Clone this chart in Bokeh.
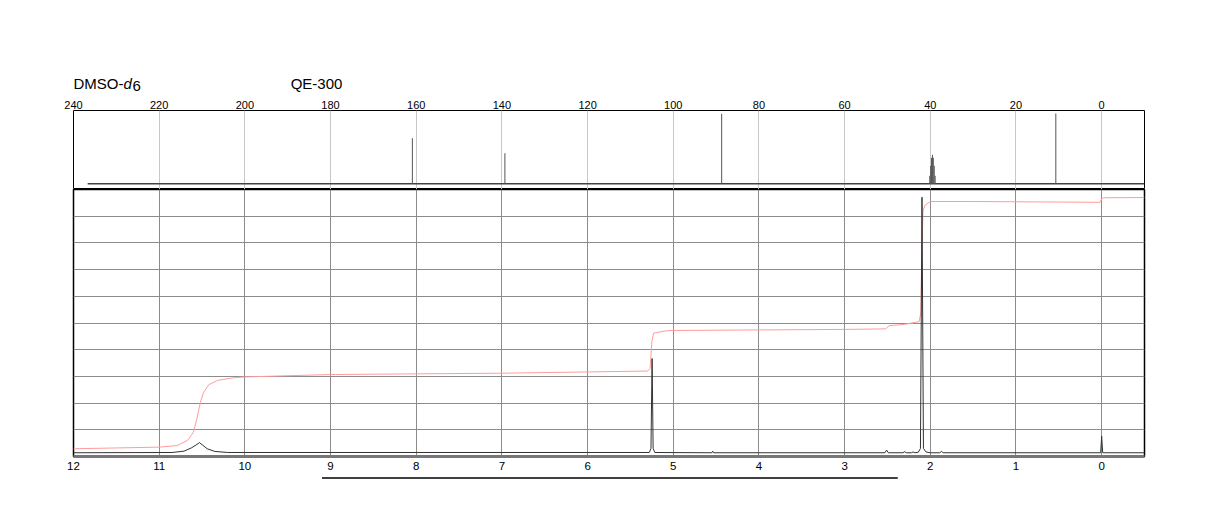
from bokeh.plotting import figure
from bokeh.layouts import column
from bokeh.models import Range1d, FixedTicker
from bokeh.core.properties import value
from bokeh.embed import file_html
from bokeh.resources import INLINE

# ---------------- data ----------------
# 13C spectrum (top panel)
c13_ticks = [240, 220, 200, 180, 160, 140, 120, 100, 80, 60, 40, 20, 0]
c13_baseline = 5.7
c13_baseline_ppm = [236.7, -10.0]
c13_peak_ppm = [160.9, 139.3, 88.7, 40.13, 39.92, 39.71, 39.50, 39.29, 39.08, 38.87, 10.7]
c13_peak_top = [51.3, 36.3, 75.7, 13.7, 23.7, 31.7, 34.7, 31.7, 23.7, 13.7, 76.0]

# 1H spectrum (bottom panel)
h1_ticks = [12, 11, 10, 9, 8, 7, 6, 5, 4, 3, 2, 1, 0]
h1_hgrid = [1, 2, 3, 4, 5, 6, 7, 8, 9]
h1_ppm = [12.0, 10.85, 10.71, 10.62, 10.57, 10.53, 10.49, 10.44, 10.35, 10.2,
          5.28, 5.26, 5.247, 5.235, 5.215,
          4.55, 4.54, 4.53,
          2.53, 2.51, 2.49, 2.32, 2.30, 2.28, 2.22, 2.20, 2.18,
          2.14, 2.115, 2.097, 2.08, 2.05, 2.0,
          1.89, 1.87, 1.85,
          0.012, 0.0, -0.012, -0.5]
h1_int = [0.14, 0.15, 0.20, 0.33, 0.43, 0.52, 0.42, 0.29, 0.19, 0.15,
          0.15, 0.30, 3.67, 0.30, 0.15,
          0.14, 0.20, 0.14,
          0.14, 0.24, 0.14, 0.14, 0.18, 0.14, 0.14, 0.17, 0.14,
          0.16, 0.30, 9.71, 0.30, 0.17, 0.14,
          0.14, 0.19, 0.14,
          0.14, 0.76, 0.14, 0.14]

# integral trace
int_ppm = [12.0, 11.0, 10.79, 10.67, 10.6, 10.56, 10.52, 10.48, 10.42, 10.32, 10.13, 10.0,
           9.0, 7.0, 5.3, 5.27, 5.25, 5.23, 5.1, 5.0, 3.0, 2.52, 2.48, 2.3, 2.13,
           2.11, 2.10, 2.085, 2.06, 2.0, 1.5, 0.5, 0.02, 0.0, -0.02, -0.5]
int_val = [0.29, 0.35, 0.41, 0.60, 0.91, 1.41, 2.03, 2.41, 2.69, 2.85, 2.95, 2.98,
           3.07, 3.12, 3.20, 3.30, 4.30, 4.62, 4.70, 4.72, 4.76, 4.78, 4.90, 4.95, 5.05,
           5.40, 7.50, 9.20, 9.42, 9.55, 9.55, 9.53, 9.52, 9.65, 9.69, 9.70]

bar_ppm = [9.1, 2.38]

header_solvent = "DMSO-"
header_solvent_d = "d"
header_solvent_sub = "6"
header_instrument = "QE-300"

FONT = "Liberation Sans"
W = 1224
ML, MR = 73, 80


def blank(p):
    p.xgrid.visible = False
    p.ygrid.visible = False
    p.outline_line_color = None
    p.background_fill_color = "white"
    p.border_fill_color = "white"


# ---------------- header strip ----------------
x13 = Range1d(240, -10)
p0 = figure(width=W, height=95, x_range=x13, y_range=Range1d(0, 95),
            x_axis_location=None, y_axis_location=None,
            toolbar_location=None, output_backend="svg",
            min_border_left=ML, min_border_right=MR, min_border_top=0, min_border_bottom=0)
blank(p0)
hdr = dict(text_font=value(FONT), text_font_size="15px", text_baseline="alphabetic",
           text_align="left", text_color="black")
p0.text(x=[240], y=[12.5], text=[header_solvent], **hdr)
p0.text(x=[240], y=[12.5], text=[header_solvent_d], x_offset=50, text_font_style="italic", **hdr)
p0.text(x=[240], y=[9.7], text=[header_solvent_sub], x_offset=59, **hdr)
p0.text(x=[189.3], y=[12.5], text=[header_instrument], **hdr)

# ---------------- top panel (13C) ----------------
p1 = figure(width=W, height=94, x_range=x13, y_range=Range1d(0, 79),
            x_axis_location="above", y_axis_location=None,
            toolbar_location=None, output_backend="svg",
            min_border_left=ML, min_border_right=MR, min_border_top=15, min_border_bottom=0)
p1.xaxis.ticker = FixedTicker(ticks=c13_ticks)
p1.xaxis.major_tick_in = 0
p1.xaxis.major_tick_out = 0
p1.xaxis.minor_tick_line_color = None
p1.xaxis.axis_line_color = None
p1.xaxis.major_label_standoff = 2
p1.xaxis.major_label_text_font = FONT
p1.xaxis.major_label_text_font_size = "11px"
p1.xaxis.major_label_text_color = "black"
p1.xgrid.grid_line_color = "#c8c8c8"
p1.ygrid.visible = False
p1.outline_line_color = "black"
p1.outline_line_width = 1
p1.background_fill_color = "white"
p1.border_fill_color = "white"

p1.line(c13_baseline_ppm, [c13_baseline, c13_baseline], line_color="#444444", line_width=1.6)
p1.segment(x0=c13_peak_ppm, y0=[c13_baseline] * len(c13_peak_ppm),
           x1=c13_peak_ppm, y1=c13_peak_top, line_color="#555555", line_width=1)

# ---------------- bottom panel (1H) ----------------
x1h = Range1d(12, -0.5)
p2 = figure(width=W, height=287, x_range=x1h, y_range=Range1d(0, 10),
            y_axis_location=None, toolbar_location=None, output_backend="svg",
            min_border_left=ML, min_border_right=MR, min_border_top=0, min_border_bottom=20)
p2.xaxis.ticker = FixedTicker(ticks=h1_ticks)
p2.xaxis.major_tick_in = 0
p2.xaxis.major_tick_out = 0
p2.xaxis.minor_tick_line_color = None
p2.xaxis.axis_line_color = "#777777"
p2.xaxis.axis_line_width = 3
p2.xaxis.major_label_standoff = 5
p2.xaxis.major_label_text_font = FONT
p2.xaxis.major_label_text_font_size = "11.5px"
p2.xaxis.major_label_text_color = "black"
p2.xgrid.grid_line_color = "#8c8c8c"
p2.ygrid.ticker = FixedTicker(ticks=h1_hgrid)
p2.ygrid.grid_line_color = "#8c8c8c"
p2.outline_line_color = "black"
p2.outline_line_width = 1.5
p2.background_fill_color = "white"
p2.border_fill_color = "white"

p2.line(int_ppm, int_val, line_color="#ff9c9c", line_width=1)
p2.line(h1_ppm, h1_int, line_color="#333333", line_width=1)

# ---------------- bar strip under the 1H axis ----------------
p3 = figure(width=W, height=52, x_range=x1h, y_range=Range1d(0, 52),
            x_axis_location=None, y_axis_location=None,
            toolbar_location=None, output_backend="svg",
            min_border_left=ML, min_border_right=MR, min_border_top=0, min_border_bottom=0)
blank(p3)
p3.line(bar_ppm, [50.6, 50.6], line_color="black", line_width=1.5)

layout = column(p0, p1, p2, p3, spacing=0)
open("out.html", "w").write(file_html(layout, INLINE))
